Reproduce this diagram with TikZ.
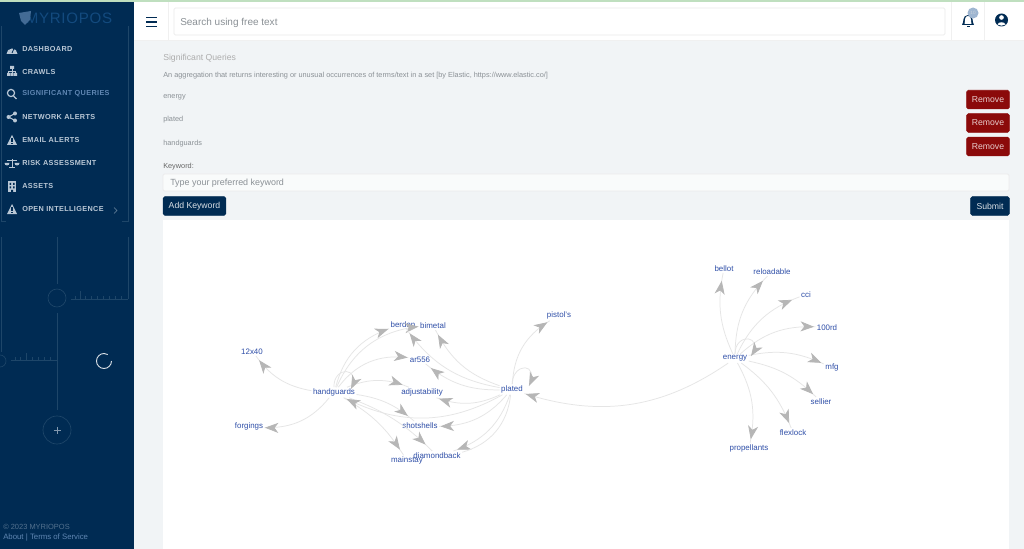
\documentclass[tikz,border=0pt]{standalone}
\usepackage{fontspec}
\setmainfont{Liberation Sans}
\newfontfamily\menufont[LetterSpace=5]{Liberation Sans}
\usetikzlibrary{arrows.meta,decorations.markings,positioning,calc}
\definecolor{navy}{HTML}{002B53}
\definecolor{pagebg}{HTML}{F1F4F6}
\definecolor{ornament}{HTML}{1E4669}
\definecolor{menutext}{HTML}{B9C7D5}
\definecolor{menuactive}{HTML}{5F86B2}
\definecolor{logoblue}{HTML}{134A7E}
\definecolor{labelblue}{HTML}{2F4FA8}
\definecolor{linkgrey}{HTML}{E5E5E5}
\definecolor{headgrey}{HTML}{B6B6B6}
\definecolor{dullgrey}{HTML}{8A9095}
\definecolor{darkred}{HTML}{8B0A0A}
\tikzset{%
  term/.style     = {font=\fontsize{5.95pt}{7pt}\selectfont, text=labelblue, inner sep=1pt},%
  link/.style     = {draw=linkgrey, line width=0.55pt, postaction={decorate},%
                     decoration={markings, mark=at position #1 with {\arrow[headgrey]{Stealth[length=10pt,width=7.5pt,inset=2.8pt]}}}},%
  link/.default   = -6pt,%
  menuitem/.style = {anchor=west, font=\menufont\bfseries\fontsize{5.45pt}{7pt}\selectfont, text=menutext, inner sep=0pt},%
  pagetext/.style = {anchor=west, font=\fontsize{5.5pt}{7pt}\selectfont, text=dullgrey, inner sep=0pt},%
  hint/.style     = {anchor=west, font=\fontsize{7.5pt}{9pt}\selectfont, text=dullgrey, inner sep=0pt},%
  inputbox/.style = {draw=black!8, fill=white!60!pagebg, rounded corners=1pt, line width=0.5pt},%
  redbtn/.style   = {fill=darkred, draw=darkred, rounded corners=1.2pt, text=white!80!darkred,%
                     minimum width=32pt, minimum height=14pt, inner sep=0pt, font=\fontsize{6.5pt}{8pt}\selectfont},%
  navybtn/.style  = {fill=navy, draw=navy, rounded corners=1.2pt, text=white!85!navy,%
                     minimum height=14pt, inner sep=0pt, font=\fontsize{6.5pt}{8pt}\selectfont},%
  orn/.style      = {draw=ornament, line width=0.5pt},%
  icon/.style     = {fill=menutext, draw=none}%
}
\begin{document}
\begin{tikzpicture}[x=0.75pt,y=-0.75pt]
	\useasboundingbox (0,0) rectangle (1024,549);
	% page areas
	\fill[pagebg] (0,0) rectangle (1024,549);
	\fill[white] (134,2) rectangle (1024,40);
	\fill[black!6] (134,40) rectangle (1024,41);
	\fill[green!50!black!25!white] (0,0) rectangle (1024,2);
	\fill[navy] (0,2) rectangle (134,549);
	\fill[white] (163,220) rectangle (1009,549);
	% sidebar frame
	\draw[orn] (1,26) -- (1,221) -- (6,221);
	\draw[orn] (128,26) -- (128,221) -- (122,221);
	\node (logo) at (69,18) [inner sep=0pt, font=\menufont\fontsize{11.3pt}{13pt}\selectfont, text=logoblue] {MYRIOPOS};
	\fill[menuactive!70!navy] (19,13) -- (31,11) -- (30,20) -- (25,25) -- (21,21) -- cycle;
	% menu
	\node (dash) at (22,48.6) [menuitem] {DASHBOARD};
	\node (crawls) at (22,71.6) [menuitem] {CRAWLS};
	\node (signif) at (22,94.1) [menuitem, text=menuactive] {SIGNIFICANT QUERIES};
	\node (netalert) at (22,117) [menuitem] {NETWORK ALERTS};
	\node (mailalert) at (22,140) [menuitem] {EMAIL ALERTS};
	\node (risk) at (22,163) [menuitem] {RISK ASSESSMENT};
	\node (assets) at (22,186) [menuitem] {ASSETS};
	\node (openint) at (22,209) [menuitem] {OPEN INTELLIGENCE};
	\draw[menutext!60!navy, line width=0.5pt] (114,207.5) -- (117,210.5) -- (114,213.5);
	% menu icons
	\fill[icon] (6.5,54) arc (180:360:5.5) -- cycle;
	\draw[navy, line width=0.6pt] (12,53) -- (14,48.5);
	\fill[icon] (10,66) rectangle (14,69) (7,73) rectangle (10,76) (10.5,73) rectangle (13.5,76) (14,73) rectangle (17,76);
	\draw[menutext, line width=0.5pt] (12,69) -- (12,73) (8.5,73) -- (8.5,71) -- (15.5,71) -- (15.5,73);
	\draw[menutext, line width=0.9pt] (11,93) circle (3.6) (13.6,96) -- (16.5,99);
	\fill[icon] (15,113.5) circle (2) (8.5,117) circle (2) (15,120.5) circle (2);
	\draw[menutext, line width=0.8pt] (15,113.5) -- (8.5,117) -- (15,120.5);
	\fill[icon] (12,135) -- (17,145) -- (7,145) -- cycle;
	\draw[navy, line width=0.8pt] (12,138) -- (12,142) (12,143) -- (12,144);
	\draw[menutext, line width=0.6pt] (12,159) -- (12,167) (9,167) -- (15,167) (7,160.5) -- (17,160.5);
	\fill[icon] (4.5,163) arc (180:0:2.5) -- cycle (14.5,163) arc (180:0:2.5) -- cycle;
	\fill[icon] (8,181) rectangle (16,192);
	\fill[navy] (9.5,183) rectangle (11,185) (13,183) rectangle (14.5,185) (9.5,186.5) rectangle (11,188.5) (13,186.5) rectangle (14.5,188.5) (11,190) rectangle (13,192);
	\fill[icon] (12,204) -- (17,214) -- (7,214) -- cycle;
	\draw[navy, line width=0.8pt] (12,207) -- (12,211) (12,212) -- (12,213);
	% ornament
	\draw[orn] (57,237) -- (57,284) (57,313) -- (57,410) (1,237) -- (1,352) (128,237) -- (128,299);
	\draw[orn] (57,298) circle (9) (0,361) circle (6) (57,430) circle (14);
	\draw[orn] (71,299) -- (128,299) (75,299) -- (75,296) (80,299) -- (80,291) (85,299) -- (85,296) (91,299) -- (91,296) (97,299) -- (97,296) (103,299) -- (103,296) (109,299) -- (109,296) (115,299) -- (115,296) (121,299) -- (121,296);
	\draw[orn] (11,360) -- (57,360) (15,360) -- (15,357) (20,360) -- (20,357) (26,360) -- (26,353) (32,360) -- (32,357) (38,360) -- (38,357) (44,360) -- (44,357) (50,360) -- (50,357);
	\draw[menutext!70!navy, line width=0.5pt] (53.5,430) -- (60.5,430) (57,426.5) -- (57,433.5);
	\draw[white!85!navy, line width=0.7pt] (111.5,361) arc (0:300:7.5);
	\node (copyr) at (3,526.5) [anchor=west, inner sep=0pt, font=\fontsize{5.6pt}{7pt}\selectfont, text=menutext!45!navy] {© 2023 MYRIOPOS};
	\node (about) at (3,537.5) [anchor=west, inner sep=0pt, font=\fontsize{5.85pt}{7pt}\selectfont, text=menuactive] {About | Terms of Service};
	% top bar
	\draw[black!6, line width=0.5pt] (168,2) -- (168,40) (951,2) -- (951,40) (984,2) -- (984,40);
	\draw[navy, line width=1.4pt] (146,17.5) -- (157,17.5) (146,22) -- (157,22) (146,26.5) -- (157,26.5);
	\draw[inputbox, fill=white] (174,8) rectangle (945,35);
	\node (search) at (180,22.5) [hint] {Search using free text};
	\fill[navy] (962,25) .. controls (964,23) and (962,15) .. (968,15) .. controls (974,15) and (972,23) .. (974,25) -- cycle;
	\fill[white] (964.5,24) .. controls (965.5,21) and (964,16) .. (968,16) .. controls (972,16) and (970.5,21) .. (971.5,24) -- cycle;
	\fill[navy] (966.5,26) rectangle (969.5,27.5);
	\fill[menuactive!60!white] (973,13) circle (5.5);
	\fill[navy] (1001.5,20) circle (6.5);
	\fill[white] (1001.5,17.5) circle (2.3) (997.5,24.5) .. controls (998,21.5) and (1005,21.5) .. (1005.5,24.5) .. controls (1003,26) and (1000,26) .. (997.5,24.5) -- cycle;
	\node (badge) at (973,13) [inner sep=0pt, font=\fontsize{3.5pt}{4pt}\selectfont, text=white!80!navy] {10};
	% page text
	\node (title) at (163,58) [pagetext, font=\fontsize{6.5pt}{8pt}\selectfont, text=black!32] {Significant Queries};
	\node (intro) at (163,76) [pagetext] {An aggregation that returns interesting or unusual occurrences of terms/text in a set [by Elastic, https://www.elastic.co/]};
	\node (wordone) at (163,97) [pagetext] {energy};
	\node (wordtwo) at (163,120) [pagetext] {plated};
	\node (wordthree) at (163,144) [pagetext] {handguards};
	\node (kwlabel) at (163,167) [pagetext, text=black!60] {Keyword:};
	\node (removeone) at (988,99.6) [redbtn] {Remove};
	\node (removetwo) at (988,123) [redbtn] {Remove};
	\node (removethree) at (988,146.5) [redbtn] {Remove};
	\draw[inputbox] (163,174) rectangle (1009,191);
	\node (keyword) at (170,183.5) [hint, font=\fontsize{6.7pt}{8pt}\selectfont] {Type your preferred keyword};
	\node (addkey) at (194.5,206) [navybtn, minimum width=47pt] {Add Keyword};
	\node (submit) at (990,206) [navybtn, minimum width=29pt] {Submit};
	% graph terms
	\node (handguards) at (334,392.5) [term] {handguards};
	\node (plated) at (512,389.5) [term] {plated};
	\node (energy) at (735,358.5) [term] {energy};
	\node (twelve) at (252,351.5) [term] {12x40};
	\node (forgings) at (249,426.5) [term] {forgings};
	\node (berdan) at (403,324.5) [term] {berdan};
	\node (bimetal) at (433,325.5) [term] {bimetal};
	\node (arfive) at (420,359.5) [term] {ar556};
	\node (adjust) at (422,392.5) [term] {adjustability};
	\node (shotshells) at (420,425.5) [term] {shotshells};
	\node (mainstay) at (407,460.5) [term] {mainstay};
	\node (diamond) at (437,455.5) [term] {diamondback};
	\node (pistols) at (559,315.5) [term] {pistol's};
	\node (bellot) at (724,268.5) [term] {bellot};
	\node (reload) at (772,271.5) [term] {reloadable};
	\node (cci) at (806,294.5) [term] {cci};
	\node (hundred) at (827,327.5) [term] {100rd};
	\node (mfg) at (832,367.5) [term] {mfg};
	\node (sellier) at (821,401.5) [term] {sellier};
	\node (flexlock) at (793,432.5) [term] {flexlock};
	\node (propell) at (749,448.5) [term] {propellants};
	\coordinate (handloop) at (351,389);
	\coordinate (platedloop) at (529,386);
	\coordinate (energyloop) at (751,356);
	% links from handguards
	\draw[link=-4pt] (handguards) to[bend left=22] (twelve);
	\draw[link=-0.2pt] (handguards) to[bend left=26] (forgings);
	\draw[link=-0.5pt] (handguards) to[bend left=28] (berdan);
	\draw[link=-0.2pt] (handguards) to[bend left=30] (bimetal);
	\draw[link=-0.5pt] (handguards) to[bend left=30] (arfive);
	\draw[link=-5pt] (handguards) to[bend left=22] (adjust);
	\draw[link=-6pt] (handguards) to[bend left=16] (shotshells);
	\draw[link=-5pt] (handguards) to[bend left=14] (mainstay);
	\draw[link=-7pt] (handguards) to[bend left=12] (diamond);
	\draw[link=-0.1pt] (handguards.north) .. controls (333,366) and (362,366) .. (handloop);
	% links from plated
	\draw[link=-2pt] (plated) to[bend left=28] (handguards);
	\draw[link=-4pt] (plated) to[bend left=22] (bimetal);
	\draw[link=-4pt] (plated) to[bend left=22] (berdan);
	\draw[link=-5pt] (plated) to[bend left=20] (arfive);
	\draw[link=-2pt] (plated) to[bend left=22] (adjust);
	\draw[link=-1pt] (plated) to[bend left=24] (shotshells);
	\draw[link=-3pt] (plated) to[bend left=26] (diamond);
	\draw[draw=linkgrey, line width=0.55pt] (plated) to[bend left=34] (diamond);
	\draw[link=-2pt] (plated) to[bend left=28] (pistols);
	\draw[link=-0.1pt] (plated.north) .. controls (513,362) and (540,362) .. (platedloop);
	% links from energy
	\draw[link=-1pt] (energy) to[bend left=26] (plated);
	\draw[link=-6pt] (energy) to[bend left=18] (bellot);
	\draw[link=-5pt] (energy) to[bend left=22] (reload);
	\draw[link=-6pt] (energy) to[bend left=22] (cci);
	\draw[link=-1pt] (energy) to[bend left=22] (hundred);
	\draw[link=-2pt] (energy) to[bend left=18] (mfg);
	\draw[link=-3pt] (energy) to[bend left=16] (sellier);
	\draw[link=-4pt] (energy) to[bend left=16] (flexlock);
	\draw[link=-3pt] (energy) to[bend left=20] (propell);
	\draw[link=-0.1pt] (energy.north) .. controls (735,332) and (765,335) .. (energyloop);
\end{tikzpicture}
\end{document}
